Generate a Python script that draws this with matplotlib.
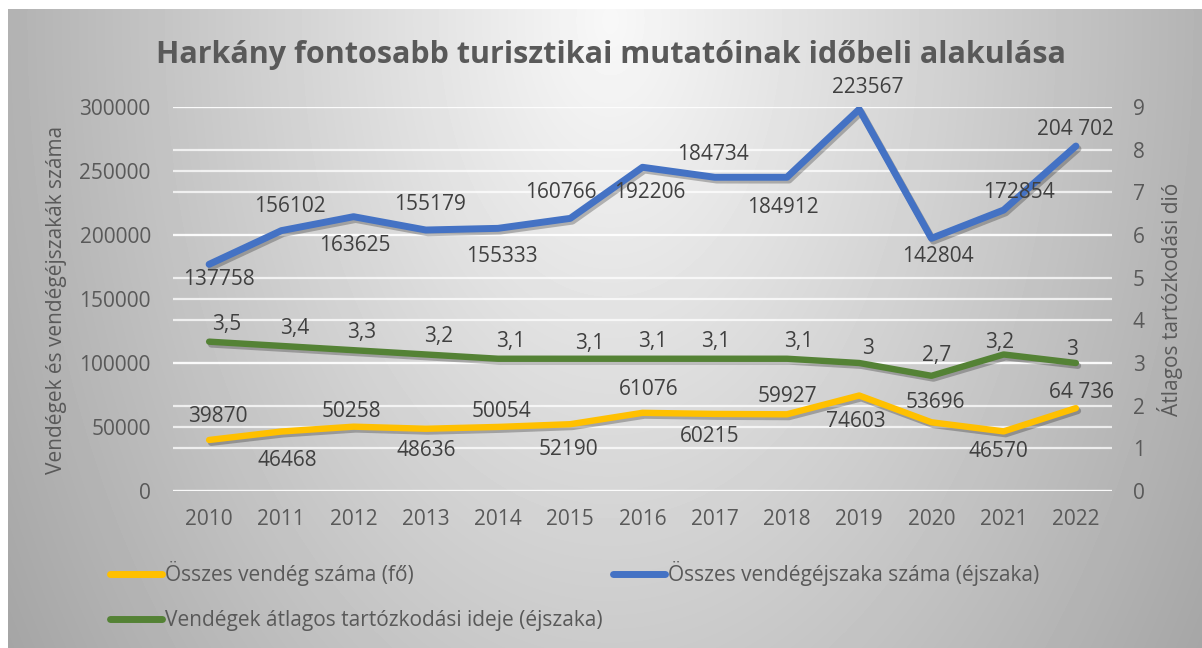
import numpy as np
import matplotlib.pyplot as plt
from matplotlib import patheffects as pe
from matplotlib.lines import Line2D

# adatok
years = [str(y) for y in range(2010, 2023)]

vendeg = [39870, 46468, 50258, 48636, 50054, 52190, 61076, 60215, 59927, 74603, 53696, 46570, 64736]
vendeg_labels = ['39870', '46468', '50258', '48636', '50054', '52190', '61076',
                 '60215', '59927', '74603', '53696', '46570', '64 736']

# a kék vonal a képen nem a feliratok szerinti magasságban fut, ezért a rajzolt helyzet külön van
ejszaka_line = [177100, 203400, 214300, 203900, 205200, 213000, 252900,
                245100, 245100, 298200, 197400, 219500, 269500]
ejszaka_labels = ['137758', '156102', '163625', '155179', '155333', '160766', '192206',
                  '184734', '184912', '223567', '142804', '172854', '204 702']

atlag = [3.5, 3.4, 3.3, 3.2, 3.1, 3.1, 3.1, 3.1, 3.1, 3.0, 2.7, 3.2, 3.0]
atlag_labels = [f"{v:g}".replace('.', ',') for v in atlag]

left_ticks = list(range(0, 300001, 50000))
right_ticks = list(range(0, 10))

# feliratok eltolása pixelben (dx, dy felfelé pozitív)
y_dx = [9, 6, -2, 0, 3, -2, 6, -5, 0, -3, 4, -5, 6]
y_dy = [25, -27, 17, -20, 17, -24, 25, -21, 19, -24, 21, -19, 17]
b_dx = [10, 9, 1, 4, 4, -9, 7, -2, -4, 9, 6, 15, 0]
b_dy = [-14, 26, -27, 27, -27, 27, -24, 24, -29, 23, -17, 19, 18]
g_dx = [18, 13, 8, 13, 13, 19, 10, 1, 12, 9, 5, -4, -4]
g_dy = [19, 19, 19, 19, 19, 17, 19, 19, 19, 16, 22, 13, 15]

YELLOW = '#FFC000'
BLUE = '#4472C4'
GREEN = '#548235'
TXT = '#595959'
LBL = '#404040'
FONT = 'Open Sans'

plt.rcParams['font.family'] = [FONT, 'DejaVu Sans']

W, H = 1202, 648
fig = plt.figure(figsize=(W / 100, H / 100), dpi=100)
fig.patch.set_facecolor('white')

# háttér színátmenet
bg = fig.add_axes([8 / W, 0, 1 - 8 / W, 1 - 9 / H])
yy, xx = np.mgrid[9:648, 8:1202]
d = np.sqrt(((xx - 610) / 620.0) ** 2 + ((yy - 20) / 1000.0) ** 2)
val = np.clip(248 - 72 * d, 165, 250) / 255.0
bg.imshow(val, cmap='gray', vmin=0, vmax=1, aspect='auto', interpolation='bilinear')
bg.axis('off')

ax = fig.add_axes([173 / W, 157 / H, 939 / W, 384 / H])
ax.patch.set_alpha(0)
ax2 = ax.twinx()

x = np.arange(len(years))
ax.set_xlim(-0.5, len(years) - 0.5)
ax.set_ylim(0, 300000)
ax2.set_ylim(0, 9)

# rácsvonalak mindkét tengely osztásainál
ax.hlines(left_ticks, -0.5, len(years) - 0.5, color='white', alpha=0.75, lw=1.6, zorder=0)
ax.hlines(np.array(right_ticks) * 300000 / 9, -0.5, len(years) - 0.5,
          color='white', alpha=0.75, lw=1.6, zorder=0)

shadow = [pe.SimpleLineShadow(offset=(1.5, -2), alpha=0.25, shadow_color='black'), pe.Normal()]

ax.plot(x, vendeg, color=YELLOW, lw=4.6, solid_capstyle='round', solid_joinstyle='round',
        path_effects=shadow, zorder=3)
ax.plot(x, ejszaka_line, color=BLUE, lw=5, solid_capstyle='round', solid_joinstyle='round',
        path_effects=shadow, zorder=3)
ax2.plot(x, atlag, color=GREEN, lw=4.6, solid_capstyle='round', solid_joinstyle='round',
         path_effects=shadow, zorder=3)

for i in range(len(years)):
    ax.annotate(vendeg_labels[i], (x[i], vendeg[i]), xytext=(y_dx[i], y_dy[i] - 7),
                textcoords='offset pixels', ha='center', va='baseline', fontsize=15, color=LBL)
    ax.annotate(ejszaka_labels[i], (x[i], ejszaka_line[i]), xytext=(b_dx[i], b_dy[i] - 7),
                textcoords='offset pixels', ha='center', va='baseline', fontsize=15, color=LBL)
    ax2.annotate(atlag_labels[i], (x[i], atlag[i]), xytext=(g_dx[i], g_dy[i] - 7),
                 textcoords='offset pixels', ha='center', va='baseline', fontsize=15, color=LBL)

ax.set_xticks(x)
ax.set_xticklabels(years)
ax.set_yticks(left_ticks)
ax.set_yticklabels([str(v) for v in left_ticks])
ax2.set_yticks(right_ticks)
ax2.set_yticklabels([str(v) for v in right_ticks])

ax.tick_params(axis='x', length=0, labelsize=15, labelcolor=TXT, pad=13)
ax.tick_params(axis='y', length=0, labelsize=15, labelcolor=TXT, pad=16)
ax2.tick_params(axis='y', length=0, labelsize=15, labelcolor=TXT, pad=15)
for a in (ax, ax2):
    for s in a.spines.values():
        s.set_visible(False)

fig.text(57 / W, 1 - 300 / H, 'Vendégek és vendégéjszakák száma', rotation=90,
         ha='center', va='center', fontsize=15, color=TXT)
fig.text(1170 / W, 1 - 299 / H, 'Átlagos tartózkodási dió', rotation=90,
         ha='center', va='center', fontsize=15, color=TXT)

fig.text(611 / W, 1 - 63 / H, 'Harkány fontosabb turisztikai mutatóinak időbeli alakulása',
         ha='center', va='baseline', fontsize=22, fontweight='bold', color=TXT)

handles = [Line2D([], [], color=YELLOW, lw=5, solid_capstyle='round'),
           Line2D([], [], color=GREEN, lw=5, solid_capstyle='round'),
           Line2D([], [], color=BLUE, lw=5, solid_capstyle='round')]
labels = ['Összes vendég száma (fő)',
          'Vendégek átlagos tartózkodási ideje (éjszaka)',
          'Összes vendégéjszaka száma (éjszaka)']
fig.legend(handles, labels, ncol=2, loc='upper left', bbox_to_anchor=(110 / W, 1 - 561 / H),
           frameon=False, fontsize=15, labelcolor=TXT, handlelength=2.5, handletextpad=0.15,
           columnspacing=0.5, labelspacing=1.15, borderpad=0, borderaxespad=0)

fig.savefig('out.png', dpi=100)
